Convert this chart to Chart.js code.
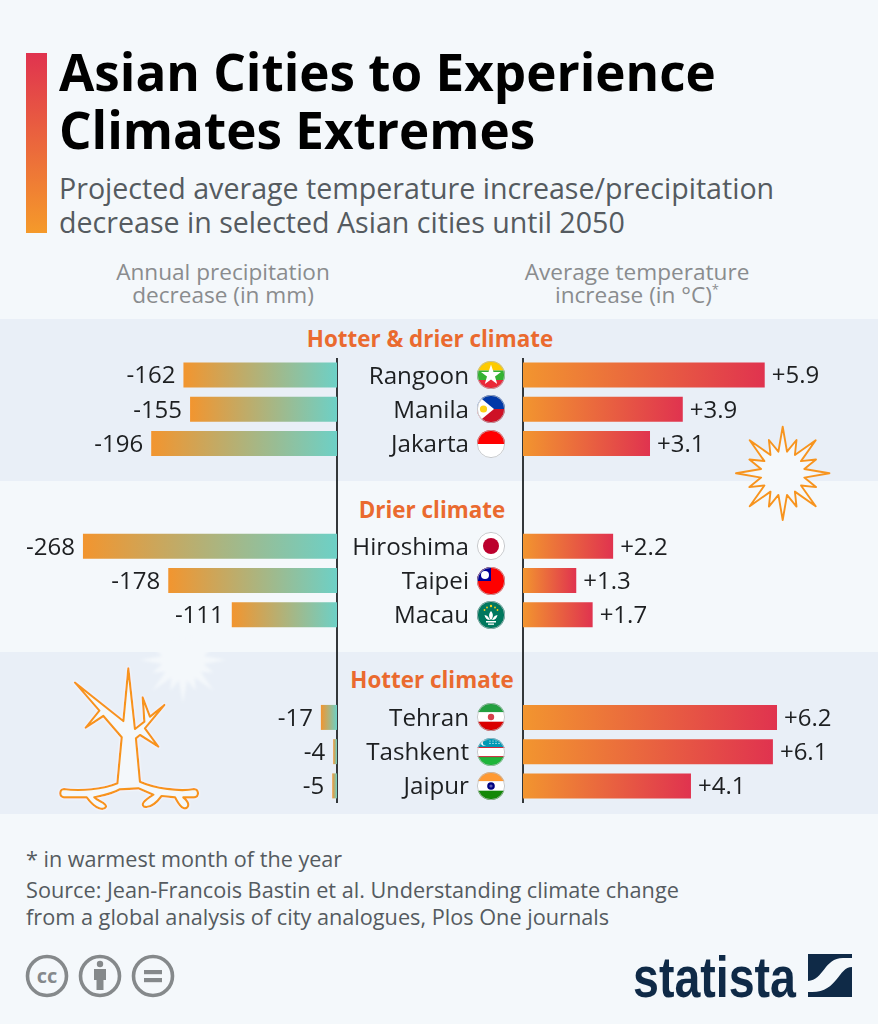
<!DOCTYPE html>
<html>
<head>
<meta charset="utf-8">
<title>Asian Cities to Experience Climates Extremes</title>
<script src="https://cdn.jsdelivr.net/npm/chart.js@4"></script>
<style>
  html, body { margin: 0; padding: 0; }
  body { width: 878px; height: 1024px; background: #f4f8fb; position: relative; overflow: hidden; font-family: "Open Sans", sans-serif; }
  .abs { position: absolute; }
  .band { position: absolute; left: 0; width: 878px; background: #e9eff7; }
  #accent { left: 26px; top: 53px; width: 21px; height: 180px; background: linear-gradient(#e0334f, #f59a2a); }
  #title { left: 59px; top: 42px; font-size: 51.2px; line-height: 58px; font-weight: 700; color: #000; white-space: nowrap; }
  #subtitle { left: 59px; top: 171px; font-size: 28.6px; line-height: 34px; color: #555b60; white-space: nowrap; }
  .axis-title { font-size: 22.6px; line-height: 23px; color: #8a8c8e; text-align: center; white-space: nowrap; transform: translateX(-50%); }
  .axis-title sup { font-size: 13px; line-height: 0; }
  .group { transform: translateX(-50%); font-size: 22.4px; font-weight: 700; color: #ea6a2f; white-space: nowrap; }
  #note { left: 26px; top: 844px; font-size: 21.6px; color: #555b60; white-space: nowrap; }
  #source { left: 26px; top: 876px; font-size: 21.7px; line-height: 27px; color: #555b60; white-space: nowrap; }
  canvas { position: absolute; }
  svg { position: absolute; overflow: visible; }
</style>
</head>
<body>
<div class="band" style="top:319px;height:162px"></div>
<div class="band" style="top:652px;height:162px"></div>

<div id="accent" class="abs"></div>
<div id="title" class="abs">Asian Cities to Experience<br>Climates Extremes</div>
<div id="subtitle" class="abs">Projected average temperature increase/precipitation<br>decrease in selected Asian cities until 2050</div>

<div class="abs axis-title" style="left:223px;top:260px">Annual precipitation<br>decrease (in mm)</div>
<div class="abs axis-title" style="left:637px;top:260px">Average temperature<br>increase (in °C)<sup>*</sup></div>

<div class="abs group" style="left:430px;top:323px">Hotter &amp; drier climate</div>
<div class="abs group" style="left:432px;top:494px">Drier climate</div>
<div class="abs group" style="left:432px;top:664px">Hotter climate</div>

<!-- decoration -->
<svg id="deco" width="878" height="1024" style="left:0;top:0">
  <defs>
    <filter id="halo" x="-30%" y="-30%" width="160%" height="160%"><feDropShadow dx="0" dy="0" stdDeviation="2.5" flood-color="#ffffff"/></filter>
    <filter id="soft" x="-30%" y="-30%" width="160%" height="160%"><feGaussianBlur stdDeviation="1.8"/></filter>
    <radialGradient id="sunFill"><stop offset="0.55" stop-color="#f4f8fb"/><stop offset="1" stop-color="#f4f8fb" stop-opacity="0"/></radialGradient>
  </defs>
  <polygon id="whiteSun" fill="#f4f8fb" filter="url(#soft)"/>
  <polygon id="orangeSun" fill="url(#sunFill)" stroke="#f7941e" stroke-width="1.9" stroke-linejoin="round"/>
  <g transform="translate(40,640) scale(0.3333)" filter="url(#halo)">
    <path fill="#f4f8fb" stroke="#f7941e" stroke-width="6.5" stroke-linejoin="round"
      d="M105 128 L250 243 L265 85 L285 267 L313 245 L308 172 L330 230 L373 195 L315 265 L355 320 L300 285 L288 295 L300 425
         C345 445 420 456 462 447 C478 448 478 472 462 472 L430 472 C442 482 450 492 442 502 C432 510 420 502 405 472 L365 468
         C350 488 330 505 312 500 C302 492 312 482 340 464 L295 445 L240 448 C215 462 190 466 163 472 C175 485 200 488 198 500
         C192 512 168 510 140 472 L72 472 C56 470 58 448 72 447 C120 454 190 448 232 430 L245 292 L190 228 L137 263 L178 212 Z"/>
  </g>
  <!-- cc icons -->
  <g fill="none" stroke="#85898b" stroke-width="3.6">
    <circle cx="47" cy="976" r="19.5"/><circle cx="100" cy="976" r="19.5"/><circle cx="153" cy="976" r="19.5"/>
  </g>
  <text x="47" y="983" text-anchor="middle" font-family="Open Sans" font-weight="700" font-size="20" fill="#85898b">cc</text>
  <g fill="#85898b">
    <circle cx="100" cy="964" r="3.2"/>
    <path d="M94 969 H106 V980 H103.5 V990 H96.5 V980 H94 Z"/>
    <rect x="144" y="970" width="18" height="4.2"/><rect x="144" y="978" width="18" height="4.2"/>
  </g>
  <!-- logo -->
  <text x="633" y="997" font-family="Liberation Sans Narrow, Liberation Sans" font-weight="700" font-size="57" fill="#0f2a47" textLength="163" lengthAdjust="spacingAndGlyphs">statista</text>
  <rect x="808" y="954" width="44" height="43" fill="#0f2a47"/>
  <path d="M808 981 C824 980 824 958 843 958 L852 958 L852 967 C838 967 838 992 812 992 L808 992 Z" fill="#f4f8fb"/>
</svg>

<div id="note" class="abs">* in warmest month of the year</div>
<div id="source" class="abs">Source: Jean-Francois Bastin et al. Understanding climate change<br>from a global analysis of city analogues, Plos One journals</div>

<canvas id="precipChart" width="338" height="445" style="left:0;top:358px"></canvas>
<canvas id="tempChart" width="538" height="445" style="left:340px;top:358px"></canvas>
<div id="flags"></div>

<script>
// blank rows leave room for the group headings
const cities = ['Rangoon', 'Manila', 'Jakarta', '', '', 'Hiroshima', 'Taipei', 'Macau', '', '', 'Tehran', 'Tashkent', 'Jaipur'];
const precipitation = [-162, -155, -196, null, null, -268, -178, -111, null, null, -17, -4, -5];
const temperature = [5.9, 3.9, 3.1, null, null, 2.2, 1.3, 1.7, null, null, 6.2, 6.1, 4.1];

const FONT = '"Open Sans", sans-serif';
const TEXT_COLOR = '#1d1f21';

// every bar gets its own gradient, from its far end / base
function barGradient(context, start, end, fromBase) {
  const chart = context.chart;
  const x = chart.scales.x;
  const v = context.dataset.data[context.dataIndex];
  if (!x || v === null || v === undefined) return start;
  const a = x.getPixelForValue(fromBase ? 0 : v);
  const b = x.getPixelForValue(fromBase ? v : 0);
  // the scale has no pixels yet on the first options pass
  if (!Number.isFinite(a) || !Number.isFinite(b)) return start;
  const g = chart.ctx.createLinearGradient(a, 0, b, 0);
  g.addColorStop(0, start);
  g.addColorStop(1, end);
  return g;
}

// value labels next to the bar ends
const valueLabels = {
  id: 'valueLabels',
  afterDatasetsDraw(chart, args, opts) {
    const { ctx, scales } = chart;
    const data = chart.data.datasets[0].data;
    ctx.save();
    ctx.font = '24px ' + FONT;
    ctx.fillStyle = TEXT_COLOR;
    ctx.textBaseline = 'middle';
    data.forEach((v, i) => {
      if (v === null) return;
      const x = scales.x.getPixelForValue(v);
      const y = scales.y.getPixelForValue(i);
      ctx.textAlign = v < 0 ? 'right' : 'left';
      ctx.fillText(v < 0 ? String(v) : '+' + v.toFixed(1), x + (v < 0 ? -8 : 7), y + 1.5);
    });
    ctx.restore();
  }
};

function barOptions(xMin, xMax, yPosition, yWidth, showTicks) {
  return {
    responsive: false,
    animation: false,
    indexAxis: 'y',
    layout: { padding: 0 },
    plugins: { legend: { display: false }, tooltip: { enabled: false } },
    scales: {
      x: { display: false, min: xMin, max: xMax },
      y: {
        position: yPosition,
        grid: { display: false, drawTicks: false },
        border: { display: true, color: '#33373a', width: 2 },
        ticks: {
          display: showTicks,
          autoSkip: false,
          padding: 54,
          labelOffset: 1.5,
          color: TEXT_COLOR,
          font: { family: FONT, size: 24.2 }
        },
        afterFit(scale) {
          scale.width = yWidth;
          // tick padding would otherwise eat into the chart height
          scale.paddingTop = 0;
          scale.paddingBottom = 0;
        }
      }
    }
  };
}

new Chart(document.getElementById('precipChart'), {
  type: 'bar',
  data: {
    labels: cities,
    datasets: [{
      data: precipitation,
      barPercentage: 0.73,
      categoryPercentage: 1,
      backgroundColor: c => barGradient(c, '#f2952f', '#6dd0c6', false)
    }]
  },
  options: barOptions(-355.5, 0, 'right', 1, false),
  plugins: [valueLabels]
});

const tempChart = new Chart(document.getElementById('tempChart'), {
  type: 'bar',
  data: {
    labels: cities,
    datasets: [{
      data: temperature,
      barPercentage: 0.73,
      categoryPercentage: 1,
      backgroundColor: c => barGradient(c, '#f2952f', '#e0334f', true)
    }]
  },
  options: barOptions(0, 8.665, 'left', 183, true),
  plugins: [valueLabels]
});

// flags, 28px roundels
const flagArt = {
  Rangoon: '<rect width="28" height="9.5" fill="#fecb00"/><rect y="9.5" width="28" height="9.5" fill="#34b233"/><rect y="19" width="28" height="9" fill="#ea2839"/><polygon points="14,3.5 16.5,11 24,11 18,15.6 20.2,23 14,18.5 7.8,23 10,15.6 4,11 11.5,11" fill="#fff"/>',
  Manila: '<rect width="28" height="14" fill="#0038a8"/><rect y="14" width="28" height="14" fill="#ce1126"/><polygon points="0,0 17,14 0,28" fill="#fff"/><circle cx="6.5" cy="14" r="3.6" fill="#fcd116"/>',
  Jakarta: '<rect width="28" height="14" fill="#ff0000"/><rect y="14" width="28" height="14" fill="#fff"/>',
  Hiroshima: '<rect width="28" height="28" fill="#fff"/><circle cx="14" cy="14" r="8" fill="#bc002d"/>',
  Taipei: '<rect width="28" height="28" fill="#fe0000"/><rect width="14" height="14" fill="#000095"/><circle cx="8" cy="8" r="4" fill="#fff"/>',
  Macau: '<rect width="28" height="28" fill="#00785e"/><path d="M14 10 C17 13 16 17 14 19 C12 17 11 13 14 10 Z M7.5 14 C10 14 12 16.5 13 19 C10 19 8 17 7.5 14 Z M20.5 14 C18 14 16 16.5 15 19 C18 19 20 17 20.5 14 Z" fill="#fff"/><rect x="9" y="20" width="10" height="1.5" fill="#fff"/><rect x="11" y="22.5" width="6" height="1.3" fill="#fff"/><g fill="#fbd116"><circle cx="14" cy="5" r="1.2"/><circle cx="10" cy="6.5" r="0.9"/><circle cx="18" cy="6.5" r="0.9"/><circle cx="7.5" cy="9" r="0.9"/><circle cx="20.5" cy="9" r="0.9"/></g>',
  Tehran: '<rect width="28" height="9.3" fill="#239f40"/><rect y="9.3" width="28" height="9.4" fill="#fff"/><rect y="18.7" width="28" height="9.3" fill="#da0000"/><circle cx="14" cy="14" r="3.2" fill="#d6404c"/>',
  Tashkent: '<rect width="28" height="9.3" fill="#0099b5"/><rect y="9.3" width="28" height="9.4" fill="#fff"/><rect y="18.7" width="28" height="9.3" fill="#1eb53a"/><rect y="9" width="28" height="0.9" fill="#ce1126"/><rect y="18.2" width="28" height="0.9" fill="#ce1126"/><circle cx="7" cy="4.8" r="3" fill="#fff"/><circle cx="8.4" cy="4.8" r="2.6" fill="#0099b5"/><g fill="#fff"><circle cx="13" cy="3" r=".6"/><circle cx="16" cy="3" r=".6"/><circle cx="19" cy="3" r=".6"/><circle cx="13" cy="5.4" r=".6"/><circle cx="16" cy="5.4" r=".6"/><circle cx="19" cy="5.4" r=".6"/><circle cx="22" cy="5.4" r=".6"/></g>',
  Jaipur: '<rect width="28" height="9.3" fill="#ff9933"/><rect y="9.3" width="28" height="9.4" fill="#fff"/><rect y="18.7" width="28" height="9.3" fill="#138808"/><circle cx="14" cy="14" r="3.8" fill="#000080"/><circle cx="14" cy="14" r="1.6" fill="#5a5ab0"/>'
};

const yScale = tempChart.scales.y;
const flagBox = document.getElementById('flags');
cities.forEach((city, i) => {
  if (!city) return;
  const top = 358 + yScale.getPixelForValue(i) - 14;
  flagBox.insertAdjacentHTML('beforeend',
    `<svg width="28" height="28" viewBox="0 0 28 28" style="left:477px;top:${top}px">
       <clipPath id="clip${i}"><circle cx="14" cy="14" r="14"/></clipPath>
       <g clip-path="url(#clip${i})">${flagArt[city]}</g>
       <circle cx="14" cy="14" r="13.6" fill="none" stroke="#b9bcc0" stroke-width="0.8"/>
     </svg>`);
});

// sun outlines: 16 spikes, long and short alternating
function sunPoints(cx, cy, rLong, rShort, rInner) {
  const pts = [];
  for (let k = 0; k < 32; k++) {
    const a = -Math.PI / 2 + k * Math.PI / 16;
    const r = k % 2 ? rInner : (k % 4 === 0 ? rLong : rShort);
    pts.push((cx + r * Math.cos(a)).toFixed(1) + ',' + (cy + r * Math.sin(a)).toFixed(1));
  }
  return pts.join(' ');
}
document.getElementById('orangeSun').setAttribute('points', sunPoints(782.7, 473.3, 46.7, 36, 22));
document.getElementById('whiteSun').setAttribute('points', sunPoints(183, 660, 43, 33, 21));
</script>
</body>
</html>
